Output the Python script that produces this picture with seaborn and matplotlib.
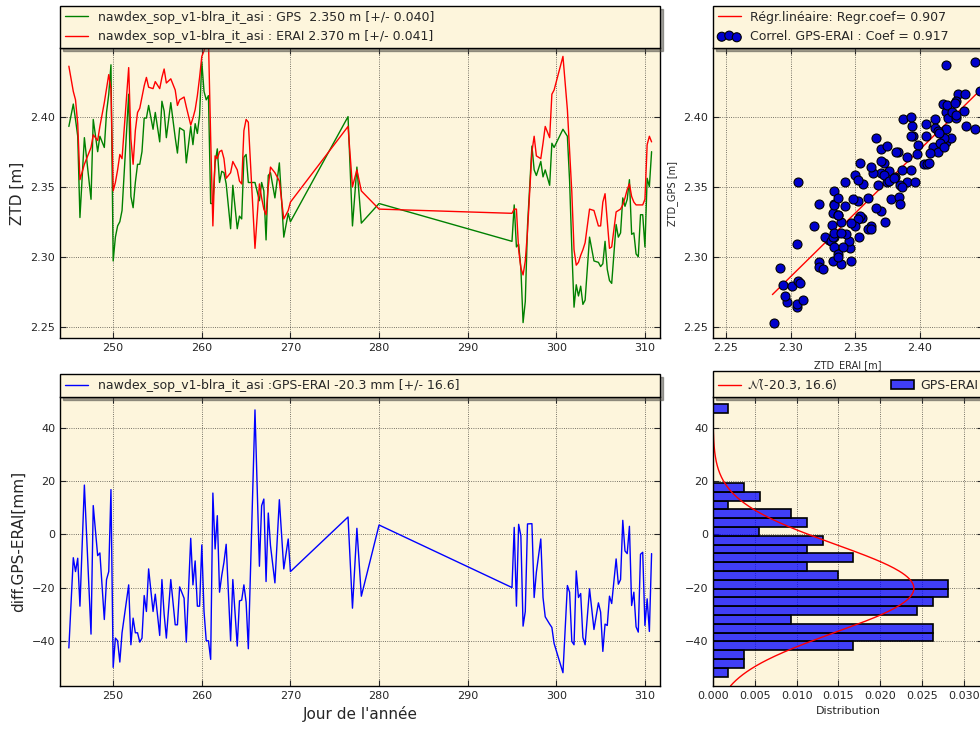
"""
GPS vs ERA-Interim ZTD comparison, station nawdex_sop_v1-blra_it_asi
"""

import numpy as np
import pandas as pd
import matplotlib
matplotlib.use("Agg")
import matplotlib.pyplot as plt
import seaborn as sns

# ---- data ----
days = [245.0, 245.5, 245.75, 246.0, 246.25, 246.75, 247.5, 247.75, 248.25, 248.5,
        249.0, 249.25, 249.5, 249.75, 250.0, 250.25, 250.5, 250.75, 251.0, 251.75,
        252.0, 252.25, 252.5, 252.75, 253.0, 253.25, 253.5, 253.75, 254.0, 254.5,
        254.75, 255.25, 255.5, 255.75, 256.0, 256.5, 257.0, 257.25, 257.5, 258.0,
        258.25, 258.75, 259.0, 259.25, 259.5, 259.75, 260.0, 260.25, 260.5, 260.75,
        261.0, 261.25, 261.5, 261.75, 262.0, 262.25, 262.5, 262.75, 263.25, 263.5,
        264.0, 264.25, 264.5, 264.75, 265.0, 265.25, 266.0, 266.5, 266.75, 267.0,
        267.25, 267.5, 267.75, 268.25, 268.75, 269.25, 269.75, 270.0, 276.5, 277.0,
        277.5, 278.0, 280.0, 295.0, 295.25, 295.5, 295.75, 296.0, 296.25, 296.5,
        296.75, 297.25, 297.5, 297.75, 298.25, 298.5, 298.75, 299.25, 299.5, 299.75,
        300.75, 301.25, 301.5, 301.75, 302.0, 302.25, 302.5, 302.75, 303.0, 303.25,
        303.75, 304.25, 304.75, 305.0, 305.25, 305.5, 305.75, 306.0, 306.25, 306.75,
        307.0, 307.25, 307.5, 307.75, 308.0, 308.25, 308.5, 308.75, 309.0, 309.25,
        309.5, 309.75, 310.0, 310.25, 310.5, 310.75]

ztd_erai = [2.436, 2.418, 2.412, 2.395, 2.355, 2.366, 2.378, 2.387, 2.383, 2.393,
            2.410, 2.420, 2.430, 2.420, 2.347, 2.353, 2.362, 2.373, 2.370, 2.435,
            2.384, 2.366, 2.390, 2.403, 2.406, 2.414, 2.422, 2.428, 2.421, 2.420,
            2.425, 2.420, 2.428, 2.434, 2.424, 2.427, 2.419, 2.408, 2.412, 2.414,
            2.407, 2.394, 2.399, 2.405, 2.415, 2.428, 2.443, 2.447, 2.452, 2.455,
            2.385, 2.322, 2.372, 2.370, 2.375, 2.376, 2.370, 2.356, 2.360, 2.368,
            2.362, 2.354, 2.352, 2.390, 2.398, 2.396, 2.306, 2.352, 2.342, 2.334,
            2.330, 2.350, 2.364, 2.360, 2.354, 2.327, 2.333, 2.339, 2.393, 2.350,
            2.362, 2.347, 2.334, 2.331, 2.334, 2.334, 2.305, 2.292, 2.287, 2.297,
            2.318, 2.375, 2.386, 2.372, 2.370, 2.381, 2.393, 2.385, 2.416, 2.419,
            2.443, 2.405, 2.376, 2.346, 2.305, 2.294, 2.296, 2.301, 2.305, 2.310,
            2.334, 2.333, 2.322, 2.322, 2.339, 2.345, 2.325, 2.306, 2.307, 2.332,
            2.333, 2.334, 2.337, 2.342, 2.348, 2.352, 2.343, 2.339, 2.337, 2.337,
            2.337, 2.337, 2.341, 2.380, 2.386, 2.382]

ztd_gps = [2.393, 2.409, 2.398, 2.386, 2.328, 2.385, 2.341, 2.398, 2.375, 2.386,
           2.378, 2.403, 2.416, 2.437, 2.297, 2.314, 2.322, 2.325, 2.333, 2.416,
           2.343, 2.335, 2.353, 2.366, 2.366, 2.375, 2.399, 2.399, 2.408, 2.391,
           2.403, 2.382, 2.411, 2.404, 2.385, 2.410, 2.385, 2.374, 2.392, 2.390,
           2.367, 2.393, 2.380, 2.395, 2.388, 2.401, 2.439, 2.418, 2.412, 2.415,
           2.338, 2.338, 2.367, 2.377, 2.353, 2.361, 2.360, 2.352, 2.320, 2.351,
           2.320, 2.329, 2.327, 2.371, 2.373, 2.353, 2.353, 2.340, 2.353, 2.347,
           2.312, 2.358, 2.360, 2.342, 2.367, 2.314, 2.331, 2.325, 2.400, 2.322,
           2.364, 2.324, 2.338, 2.311, 2.337, 2.307, 2.309, 2.292, 2.253, 2.268,
           2.322, 2.379, 2.362, 2.358, 2.368, 2.357, 2.362, 2.351, 2.381, 2.378,
           2.391, 2.386, 2.354, 2.306, 2.264, 2.280, 2.272, 2.279, 2.266, 2.269,
           2.314, 2.297, 2.296, 2.293, 2.295, 2.311, 2.291, 2.283, 2.281, 2.323,
           2.314, 2.317, 2.342, 2.336, 2.341, 2.355, 2.316, 2.317, 2.302, 2.300,
           2.330, 2.330, 2.307, 2.356, 2.350, 2.375]

diff_mm = [-42.7, -8.8, -14, -9, -27, 18.5, -37.5, 10.8, -8, -7,
           -32, -17, -14, 16.8, -50, -39, -40, -48, -37, -19,
           -41.5, -31.5, -37, -37, -40.5, -39, -23, -29, -13, -29,
           -22.5, -38, -17, -30, -39, -17, -34, -34, -19.75, -24,
           -40.5, -1.5, -19, -10, -27, -27, -4, -29, -40, -40,
           -47, 15.5, -5.5, 7, -21.75, -15.5, -10.5, -3.75, -40, -17,
           -42, -25, -24.75, -19, -25.5, -43, 46.75, -12, 10.75, 13.25,
           -17.75, 8, -4.25, -18.25, 13, -13, -1.75, -14, 6.5, -27.75,
           2.25, -23.25, 3.5, -20, 2.6, -27, 3.75, -0.5, -34.5, -29,
           3.9, 4, -23.75, -14.25, -1.75, -23.75, -31, -33.75, -35, -41,
           -52, -19.25, -21.75, -40.25, -41.5, -13.75, -23.75, -22.25, -38.75, -41.5,
           -20.5, -35.75, -25.75, -29.25, -44, -33.75, -34.25, -23.25, -26, -9.25,
           -18.75, -17, 5.25, -6.25, -7.25, 3, -26.75, -21.75, -34.75, -36.75,
           -7.5, -6.75, -34.25, -24.25, -36.5, -7.25]

# regression line end points (ERAI, GPS)
reg_x = [2.286, 2.455]
reg_y = [2.273, 2.4263]

# histogram of the differences: density per bin, bottom to top
hist_lo, hist_width = -53.5, 3.307
hist_density = [0.0018, 0.0037, 0.0037, 0.0168, 0.0263, 0.0263, 0.0093, 0.0244,
                0.0263, 0.0281, 0.0281, 0.0150, 0.0112, 0.0168, 0.0112, 0.0131,
                0.0055, 0.0112, 0.0093, 0.0018, 0.0056, 0.0037, 0, 0, 0, 0, 0,
                0, 0, 0, 0.0018]
mu, sigma = -20.3, 16.6

lbl_gps = "nawdex_sop_v1-blra_it_asi : GPS  2.350 m [+/- 0.040]"
lbl_erai = "nawdex_sop_v1-blra_it_asi : ERAI 2.370 m [+/- 0.041]"
lbl_diff = "nawdex_sop_v1-blra_it_asi :GPS-ERAI -20.3 mm [+/- 16.6]"
lbl_reg = "Régr.linéaire: Regr.coef= 0.907"
lbl_cor = "Correl. GPS-ERAI : Coef = 0.917"

df = pd.DataFrame({"day": days, "gps": ztd_gps, "erai": ztd_erai, "diff": diff_mm})

# ---- style ----
BG = "#fdf5dc"
sns.set_style("ticks", {"axes.facecolor": BG, "axes.edgecolor": "black",
                        "xtick.direction": "in", "ytick.direction": "in",
                        "axes.grid": True, "grid.color": "black",
                        "grid.linestyle": ":"})
plt.rcParams.update({
    "font.family": ["DejaVu Sans"],
    "xtick.top": True, "ytick.right": True,
    "xtick.major.size": 4, "ytick.major.size": 4,
    "xtick.labelsize": 8, "ytick.labelsize": 8,
    "grid.linewidth": 0.6, "grid.alpha": 0.7,
    "axes.linewidth": 1.0,
    "legend.fontsize": 9,
})

W, H = 980, 729
fig = plt.figure(figsize=(W / 100, H / 100), dpi=100, facecolor="white")
ax1 = fig.add_axes([60 / W, (H - 338) / H, 600 / W, 290 / H])
ax2 = fig.add_axes([60 / W, (H - 686) / H, 600 / W, 289 / H])
ax3 = fig.add_axes([713 / W, (H - 338) / H, 270 / W, 290 / H])
ax4 = fig.add_axes([713 / W, (H - 686) / H, 270 / W, 289 / H])

leg_kw = dict(loc="lower left", bbox_to_anchor=(0, 1.0, 1, 0.1), mode="expand",
              borderaxespad=0, fancybox=False, shadow=True, framealpha=1,
              edgecolor="black", handlelength=1.8)

# 1. time series of ZTD
sns.lineplot(data=df, x="day", y="gps", color="green", lw=1, estimator=None,
             label=lbl_gps, ax=ax1)
sns.lineplot(data=df, x="day", y="erai", color="red", lw=1, estimator=None,
             label=lbl_erai, ax=ax1)
ax1.set_xlim(244.0, 311.7)
ax1.set_ylim(2.242, 2.449)
ax1.set_yticks([2.25, 2.30, 2.35, 2.40])
ax1.set_xlabel("")
ax1.set_ylabel("ZTD [m]", fontsize=11)
ax1.legend(**leg_kw)

# 2. differences
sns.lineplot(data=df, x="day", y="diff", color="blue", lw=1, estimator=None,
             label=lbl_diff, ax=ax2)
ax2.set_xlim(244.0, 311.7)
ax2.set_ylim(-57, 51.6)
ax2.set_yticks([-40, -20, 0, 20, 40])
ax2.set_xlabel("Jour de l'année", fontsize=11)
ax2.set_ylabel("diff.GPS-ERAI[mm]", fontsize=11)
ax2.legend(**leg_kw)

# 3. scatter GPS vs ERAI
sns.lineplot(x=reg_x, y=reg_y, color="red", lw=1, label=lbl_reg, ax=ax3)
sns.scatterplot(data=df, x="erai", y="gps", color="#0000cc", edgecolor="black",
                s=42, linewidth=0.8, label=lbl_cor, ax=ax3, zorder=3)
ax3.set_xlim(2.24, 2.449)
ax3.set_ylim(2.242, 2.449)
ax3.set_xticks([2.25, 2.30, 2.35, 2.40])
ax3.set_yticks([2.25, 2.30, 2.35, 2.40])
ax3.set_xlabel("ZTD_ERAI [m]", fontsize=7, labelpad=5)
ax3.set_ylabel("ZTD_GPS [m]", fontsize=7)
ax3.legend(scatterpoints=3, **leg_kw)

# 4. histogram of differences + normal law
edges = (hist_lo + hist_width * np.arange(len(hist_density) + 1)).tolist()
centers = [(a + b) / 2 for a, b in zip(edges[:-1], edges[1:])]
hist_df = pd.DataFrame({"center": centers, "density": hist_density})
yy = np.linspace(-57, 51.6, 300)
pdf = np.exp(-0.5 * ((yy - mu) / sigma) ** 2) / (sigma * np.sqrt(2 * np.pi))
sns.lineplot(x=pdf, y=yy, sort=False, color="red", lw=1,
             label=r"$\mathcal{N}$(-20.3, 16.6)", ax=ax4)
sns.histplot(data=hist_df, y="center", weights="density", bins=edges,
             color="blue", alpha=0.75, edgecolor="black", linewidth=1.2,
             label="GPS-ERAI", ax=ax4)
ax4.set_ylim(-57, 51.6)
ax4.set_xlim(0, 0.0323)
ax4.set_xticks([0, 0.005, 0.01, 0.015, 0.02, 0.025, 0.03])
ax4.set_xticklabels(["0.000", "0.005", "0.010", "0.015", "0.020", "0.025", "0.030"])
ax4.set_yticks([-40, -20, 0, 20, 40])
ax4.set_xlabel("Distribution", fontsize=8)
ax4.set_ylabel("")
ax4.legend(ncol=2, handletextpad=0.5, **leg_kw)

for ax in (ax1, ax2, ax3, ax4):
    ax.tick_params(which="both", top=True, right=True, direction="in")
    ax.set_axisbelow(True)

fig.savefig("out.png", dpi=100, facecolor="white")
